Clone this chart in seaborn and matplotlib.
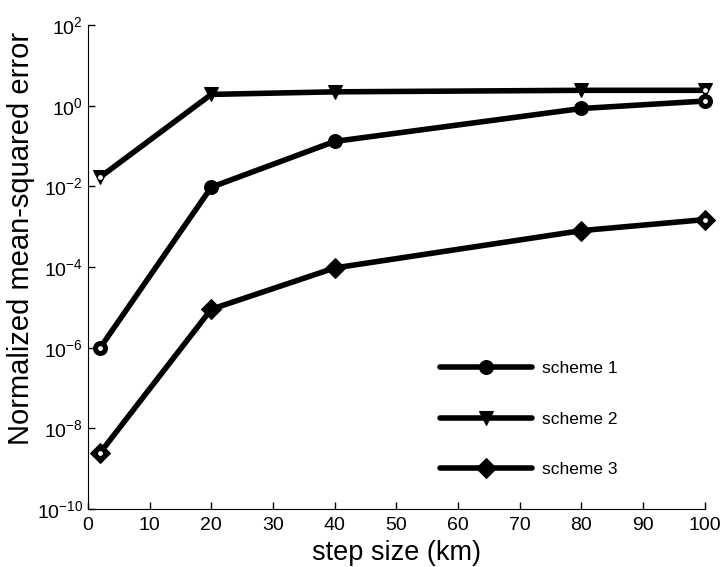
import numpy as np
import pandas as pd
import matplotlib
matplotlib.use("Agg")
import matplotlib.pyplot as plt
import seaborn as sns

# datos
step_km = [2, 20, 40, 80, 100]
scheme1 = [1.0e-6, 9.5e-3, 0.13, 0.85, 1.3]
scheme2 = [1.7e-2, 1.9, 2.2, 2.4, 2.4]
scheme3 = [2.5e-9, 9.0e-6, 9.5e-5, 8.0e-4, 1.5e-3]
names = ["scheme 1", "scheme 2", "scheme 3"]
markers = ["o", "v", "D"]

df = pd.DataFrame({
    "step": step_km * 3,
    "mse": scheme1 + scheme2 + scheme3,
    "scheme": [n for n in names for _ in step_km],
})

sns.set_style("ticks")
plt.rcParams["font.family"] = ["Liberation Sans", "DejaVu Sans"]
for k in ["text.color", "axes.labelcolor", "xtick.color", "ytick.color", "axes.edgecolor"]:
    plt.rcParams[k] = "black"

fig = plt.figure(figsize=(7.2, 5.67), dpi=100)
ax = fig.add_axes([0.122, 0.102, 0.857, 0.854])

sns.lineplot(data=df, x="step", y="mse", hue="scheme", style="scheme",
             palette=["black"] * 3, markers=markers, dashes=False,
             linewidth=4, markersize=10, markeredgecolor="black",
             ax=ax, legend=True, clip_on=False)

# extremos con centro blanco como en el original
for s, vals in zip(names, [scheme1, scheme2, scheme3]):
    ax.scatter([step_km[0], step_km[-1]], [vals[0], vals[-1]], s=6,
               color="white", zorder=5, clip_on=False)

ax.set_yscale("log")
ax.set_xlim(0, 100)
ax.set_ylim(1e-10, 1e2)
ax.set_xticks(np.arange(0, 101, 10))
ax.set_yticks([1e-10, 1e-8, 1e-6, 1e-4, 1e-2, 1e0, 1e2])
ax.yaxis.set_minor_locator(matplotlib.ticker.NullLocator())
ax.tick_params(direction="in", length=5, labelsize=14, width=1)
ax.tick_params(axis="x", pad=6)
sns.despine(ax=ax)
ax.set_xlabel("step size (km)", fontsize=19.5)
ax.set_ylabel("Normalized mean-squared error", fontsize=21)
ax.yaxis.set_label_coords(-0.085, 0.56)

leg = ax.legend(loc="center left", bbox_to_anchor=(0.611, 0.261),
                bbox_transform=fig.transFigure, frameon=False,
                borderpad=0, borderaxespad=0,
                handlelength=5.3, labelspacing=2.05, fontsize=12.5,
                handletextpad=0.6)
for h in leg.legend_handles:
    h.set_linewidth(4)
    h.set_markersize(10)

fig.savefig("out.png", dpi=100)
